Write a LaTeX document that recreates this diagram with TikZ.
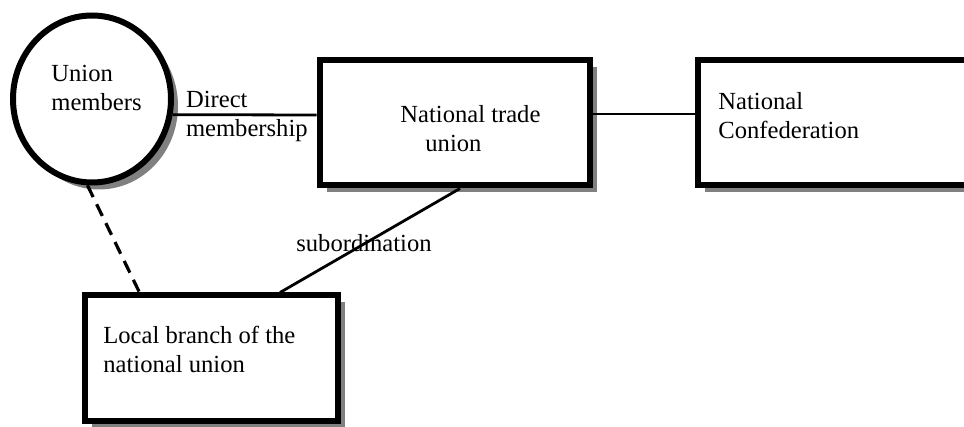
\documentclass[tikz,border=0pt]{standalone}
\usepackage{fontspec}
\setmainfont{Liberation Serif}
\usetikzlibrary{shadows,shapes.geometric}

\tikzset{
  unit/.style={draw, line width=3pt, fill=white, inner sep=0pt,
    drop shadow={shadow xshift=3.5pt, shadow yshift=-3.5pt, fill=gray, opacity=1}},
  txt/.style={inner sep=0pt, align=left, anchor=base west,
    font=\fontsize{12.3}{14.5}\selectfont},
  link/.style={line width=1.4pt},
}

\begin{document}
\begin{tikzpicture}[x=0.5pt, y=-0.5pt]
  \useasboundingbox (0,0) rectangle (964,427);
  % boxes
  \node[unit, ellipse, minimum width=79pt, minimum height=83.5pt] (mem) at (92,99) {};
  \node[unit, minimum width=135pt, minimum height=62.5pt] (ntu) at (454.5,123) {};
  \node[unit, minimum width=140pt, minimum height=62.5pt] (conf) at (837.5,123) {};
  \node[unit, minimum width=126.5pt, minimum height=62.5pt] (loc) at (211,358) {};
  % texts (anchored on the last line)
  \node[txt] (memText) at (51,111) {Union\\members};
  \node[txt] (ntuText) at (400,152) {National trade\\\hspace*{12.5pt}union};
  \node[txt] (confText) at (718,139) {National\\Confederation};
  \node[txt] (locText) at (103,372) {Local branch of the\\national union};
  % links
  \draw[link] (mem.-11.7) -- ([yshift=4pt]ntu.west)
    node[txt, pos=0, anchor=base west, xshift=6pt, yshift=-11pt] (directText) {Direct\\membership};
  \draw[link] ([yshift=4.5pt]ntu.east) -- ([yshift=4.5pt]conf.west);
  \draw[link] ([xshift=71.75pt]ntu.south west) -- ([xshift=99.25pt]loc.north west)
    node[txt, pos=0.5, anchor=center, xshift=-3pt, yshift=-1.5pt] (subText) {subordination};
  \draw[line width=1.6pt, dash pattern=on 6.5pt off 4pt] (mem.-93) -- ([xshift=29pt]loc.north west);
\end{tikzpicture}
\end{document}
